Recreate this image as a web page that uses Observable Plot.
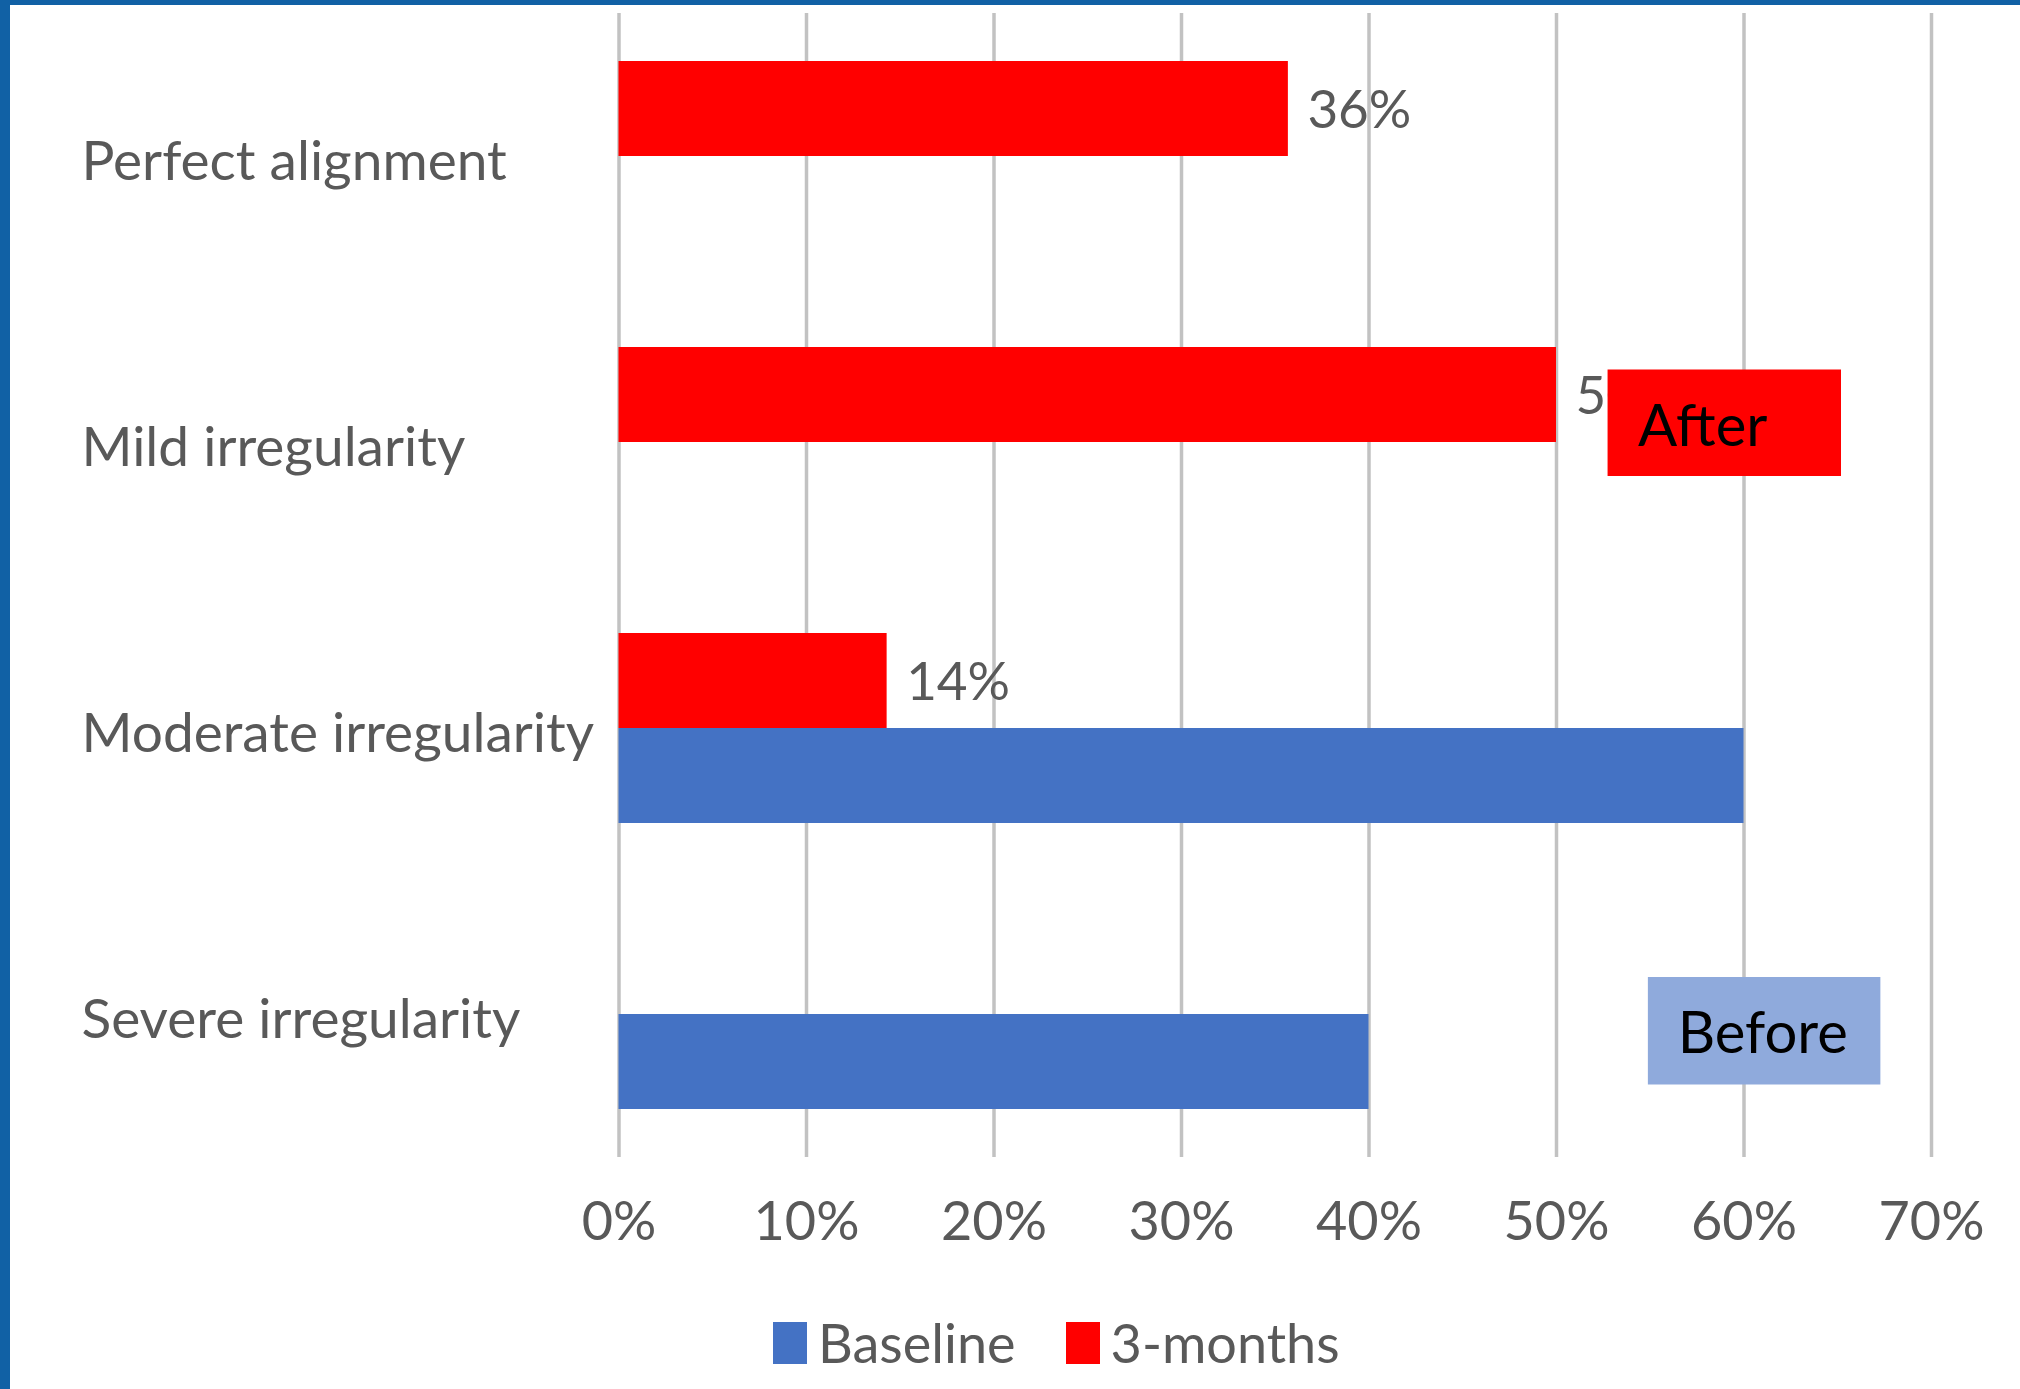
<!DOCTYPE html>
<html>
<head>
<meta charset="utf-8">
<script src="https://cdn.jsdelivr.net/npm/d3@7"></script>
<script src="https://cdn.jsdelivr.net/npm/@observablehq/plot@0.6"></script>
<style>
  html, body { margin: 0; padding: 0; background: #ffffff; }
  body { width: 2020px; height: 1389px; position: relative; overflow: hidden; font-family: Lato, sans-serif; }
  #borderLeft { position: absolute; left: 0; top: 0; width: 10px; height: 1389px; background: #1161a5; }
  #borderTop { position: absolute; left: 0; top: 0; width: 2020px; height: 5px; background: #1161a5; }
  #chart { position: absolute; left: 0; top: 0; }
  #legend { position: absolute; left: 773px; top: 1310px; display: flex; align-items: center; font-size: 54px; color: #595959; }
  .item { display: flex; align-items: center; margin-right: 50px; }
  .swatch { width: 34px; height: 42px; margin-right: 11px; }
</style>
</head>
<body>
<div id="chart"></div>
<div id="legend"></div>
<div id="borderLeft"></div>
<div id="borderTop"></div>
<script>
const categories = ["Perfect alignment", "Mild irregularity", "Moderate irregularity", "Severe irregularity"];
const seriesNames = ["Baseline", "3-months"];
const seriesColors = ["#4472c4", "#ff0000"];
const baselineValues = [0, 0, 60, 40];
const threeMonthValues = [35.7, 50, 14.3, 0];
const xTicks = [0, 10, 20, 30, 40, 50, 60, 70];
const annotationLabels = ["After", "Before"];

const data = categories.flatMap((c, i) => [
  {category: c, series: "3-months", value: threeMonthValues[i]},
  {category: c, series: "Baseline", value: baselineValues[i]}
]);
const labelled = data.filter(d => d.series === "3-months" && d.value > 0);

const textGray = "#595959";

const chart = Plot.plot({
  width: 2020,
  height: 1262,
  marginLeft: 618.5,
  marginRight: 89,
  marginTop: 13,
  marginBottom: 105,
  style: {fontFamily: "Lato, sans-serif", background: "transparent"},
  x: {domain: [0, 70], axis: null},
  y: {domain: ["3-months", "Baseline"], paddingInner: 0, paddingOuter: 0.505, axis: null},
  fy: {domain: categories, padding: 0, axis: null},
  color: {domain: seriesNames, range: seriesColors},
  marks: [
    Plot.ruleX(xTicks, {x: d => d, stroke: "#c2c2c2", strokeWidth: 3.5}),
    Plot.barX(data, {x: "value", y: "series", fy: "category", fill: "series"}),
    Plot.text(labelled, {
      x: "value", y: "series", fy: "category",
      text: d => `${Math.round(d.value)}%`,
      textAnchor: "start", dx: 19, dy: 2,
      fill: textGray, fontSize: 53
    }),
    // "After" annotation box (Mild irregularity row)
    Plot.barX([annotationLabels[0]], {
      x1: 52.75, x2: 65.2, y: () => "3-months", fy: () => "Mild irregularity",
      fill: "#ff0000", insetTop: 22.5, insetBottom: -34
    }),
    Plot.text([annotationLabels[0]], {
      x: 57.8, y: () => "3-months", fy: () => "Mild irregularity",
      text: d => d, dy: 32, fill: "#000000", fontSize: 58
    }),
    // "Before" annotation box (Severe irregularity row)
    Plot.barX([annotationLabels[1]], {
      x1: 54.9, x2: 67.3, y: () => "Baseline", fy: () => "Severe irregularity",
      fill: "#8faadc", insetTop: -37, insetBottom: 24.5
    }),
    Plot.text([annotationLabels[1]], {
      x: 61.0, y: () => "Baseline", fy: () => "Severe irregularity",
      text: d => d, dy: -28, fill: "#000000", fontSize: 58
    }),
    Plot.axisX({
      anchor: "bottom", ticks: xTicks, tickSize: 0, tickPadding: 44,
      tickFormat: d => `${d}%`, fontSize: 54, fill: textGray, label: null
    }),
    Plot.axisFy({
      anchor: "left", tickSize: 0, tickPadding: 537.5, textAnchor: "start",
      fontSize: 55, fill: textGray, label: null, dy: 6
    })
  ]
});
document.getElementById("chart").append(chart);

const legend = document.getElementById("legend");
seriesNames.forEach((name, i) => {
  const item = document.createElement("div");
  item.className = "item";
  const sw = document.createElement("div");
  sw.className = "swatch";
  sw.style.background = seriesColors[i];
  const label = document.createElement("span");
  label.textContent = name;
  item.append(sw, label);
  legend.append(item);
});
</script>
</body>
</html>
